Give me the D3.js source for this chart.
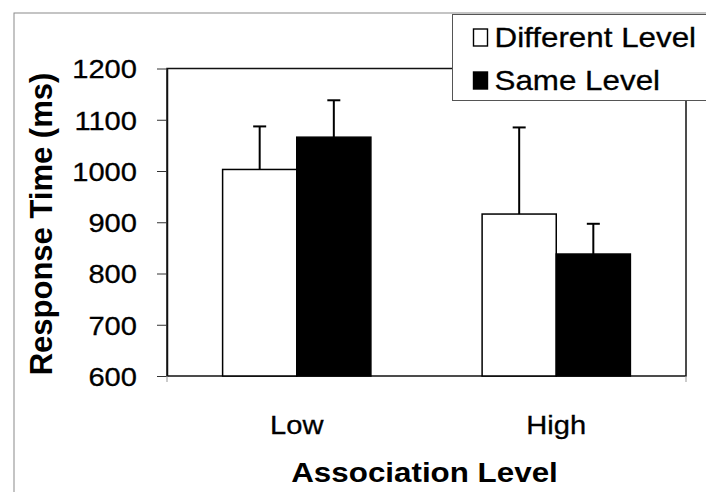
<!DOCTYPE html>
<html>
<head>
<meta charset="utf-8">
<script src="https://cdn.jsdelivr.net/npm/d3@7"></script>
<style>
  body { margin: 0; background: #fff; }
  svg { display: block; font-family: "Liberation Sans", Arial, sans-serif; }
</style>
</head>
<body>
<svg id="chart" width="706" height="492"></svg>
<script>
const categories = ['Low', 'High'];
const seriesNames = ['Different Level', 'Same Level'];
const meansDifferent = [1003, 916];
const meansSame = [1066, 838];
const errDifferent = [84, 169];
const errSame = [72, 59];
const yTicks = [600, 700, 800, 900, 1000, 1100, 1200];

const svg = d3.select('#chart');
const stretch = 1.12; // the scan is a little wider than tall

const plotLeft = 167, plotRight = 686, plotTop = 68.5, plotBottom = 376;

const rows = categories.map((c, i) => ({
    category: c,
    values: [
        {series: seriesNames[0], mean: meansDifferent[i], err: errDifferent[i]},
        {series: seriesNames[1], mean: meansSame[i], err: errSame[i]}
    ]
}));

const x0 = d3.scaleBand().domain(categories).range([plotLeft, plotRight]);
const x1 = d3.scaleBand().domain(seriesNames).range([0, x0.bandwidth()]).paddingOuter(0.75);
const y = d3.scaleLinear().domain([600, 1200]).range([plotBottom, plotTop]);
const fill = d3.scaleOrdinal().domain(seriesNames).range(['#fff', '#000']);

//outer frame of the chart
svg.append('rect')
    .attr('x', 14).attr('y', 13)
    .attr('width', 720).attr('height', 500)
    .attr('fill', 'none')
    .attr('stroke', '#8a8a8a')
    .attr('stroke-width', 1);

//plot area border
svg.append('rect')
    .attr('x', plotLeft).attr('y', plotTop)
    .attr('width', plotRight - plotLeft).attr('height', plotBottom - plotTop)
    .attr('fill', 'none')
    .attr('stroke', '#111')
    .attr('stroke-width', 1.5);

//bars
const groups = svg.selectAll('g.group')
    .data(rows)
    .join('g')
    .attr('class', 'group')
    .attr('transform', d => `translate(${x0(d.category)},0)`);

groups.selectAll('rect')
    .data(d => d.values)
    .join('rect')
    .attr('x', d => x1(d.series))
    .attr('y', d => y(d.mean))
    .attr('width', x1.bandwidth())
    .attr('height', d => plotBottom - y(d.mean))
    .attr('fill', d => fill(d.series))
    .attr('stroke', '#000')
    .attr('stroke-width', 1.5);

//error bars, upper half only
const capHalf = 6.5;
const err = groups.selectAll('g.err')
    .data(d => d.values)
    .join('g')
    .attr('class', 'err')
    .attr('stroke', '#000')
    .attr('stroke-width', 2);
err.append('line')
    .attr('x1', d => x1(d.series) + x1.bandwidth() / 2)
    .attr('x2', d => x1(d.series) + x1.bandwidth() / 2)
    .attr('y1', d => y(d.mean))
    .attr('y2', d => y(d.mean + d.err));
err.append('line')
    .attr('x1', d => x1(d.series) + x1.bandwidth() / 2 - capHalf)
    .attr('x2', d => x1(d.series) + x1.bandwidth() / 2 + capHalf)
    .attr('y1', d => y(d.mean + d.err))
    .attr('y2', d => y(d.mean + d.err));

//y axis
const yAxis = svg.append('g')
    .attr('transform', `translate(${plotLeft},0)`)
    .call(d3.axisLeft(y).tickValues(yTicks).tickSize(10).tickSizeOuter(0).tickFormat(d3.format('d')));
yAxis.select('.domain').attr('stroke', '#111').attr('stroke-width', 1.5);
yAxis.selectAll('.tick line').attr('stroke', '#333').attr('stroke-width', 1);
yAxis.selectAll('.tick text')
    .attr('x', -30 / stretch)
    .attr('dy', '0.36em')
    .attr('transform', `scale(${stretch},1)`)
    .attr('font-size', 26)
    .attr('font-family', '"Liberation Sans", Arial, sans-serif')
    .attr('fill', '#000')
    .attr('stroke', '#000')
    .attr('stroke-width', 0.3);

//x axis: labels only, with end marks
svg.selectAll('text.cat')
    .data(categories)
    .join('text')
    .attr('class', 'cat')
    .attr('transform', d => `translate(${x0(d) + x0.bandwidth() / 2},434) scale(${stretch},1)`)
    .attr('text-anchor', 'middle')
    .attr('font-size', 26)
    .attr('stroke', '#000')
    .attr('stroke-width', 0.3)
    .text(d => d);
svg.selectAll('line.xtick')
    .data(x0.range())
    .join('line')
    .attr('class', 'xtick')
    .attr('x1', d => d).attr('x2', d => d)
    .attr('y1', plotBottom).attr('y2', plotBottom + 6)
    .attr('stroke', '#999');

//axis titles
svg.append('text')
    .attr('transform', `translate(${(plotLeft + plotRight) / 2 - 2},482) scale(${stretch},1)`)
    .attr('text-anchor', 'middle')
    .attr('font-size', 28)
    .attr('font-weight', 'bold')
    .text('Association Level');
svg.append('text')
    .attr('transform', 'translate(52,224) rotate(-90)')
    .attr('text-anchor', 'middle')
    .attr('font-size', 31)
    .attr('font-weight', 'bold')
    .text('Response Time (ms)');

//legend
const legend = svg.append('g').attr('transform', 'translate(452.5,14.5)');
legend.append('rect')
    .attr('width', 300).attr('height', 86)
    .attr('fill', '#fff')
    .attr('stroke', '#555')
    .attr('stroke-width', 1);
const item = legend.selectAll('g.item')
    .data(seriesNames)
    .join('g')
    .attr('class', 'item')
    .attr('transform', (d, i) => `translate(21,${32 + i * 43})`);
item.append('rect')
    .attr('x', 0).attr('y', -17.5)
    .attr('width', 14).attr('height', 17)
    .attr('fill', d => fill(d))
    .attr('stroke', '#000')
    .attr('stroke-width', 1.4);
item.append('text')
    .attr('transform', `translate(21,0) scale(${stretch},1)`)
    .attr('font-size', 28)
    .attr('stroke', '#000')
    .attr('stroke-width', 0.3)
    .text(d => d);
</script>
</body>
</html>
